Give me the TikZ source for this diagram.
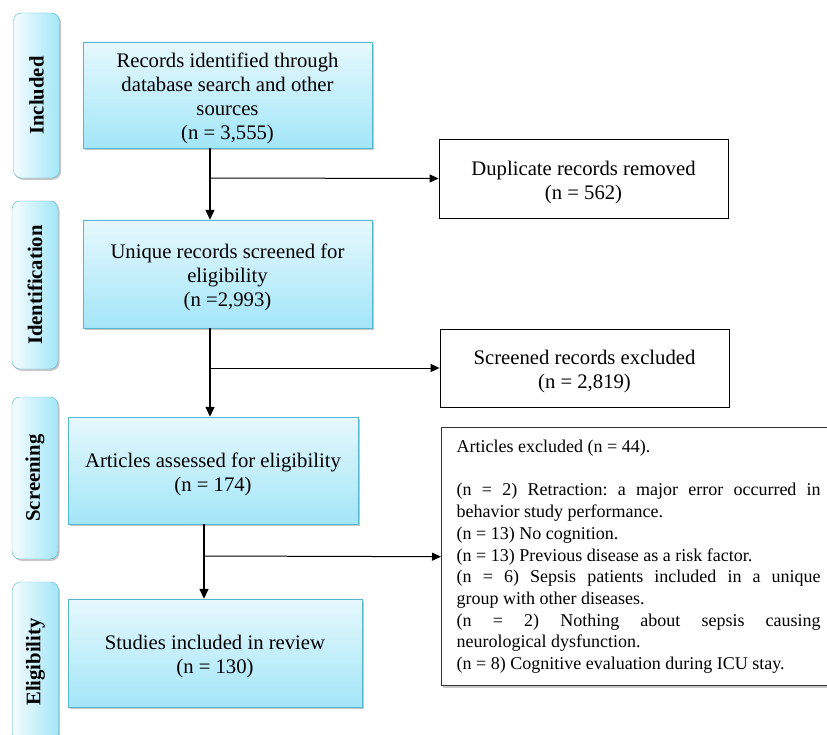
\documentclass[tikz,border=0pt]{standalone}
\usepackage{fontspec}
\setmainfont{Liberation Serif}
\newfontfamily\boxfont{Liberation Serif}
\usetikzlibrary{arrows.meta}
\definecolor{boxtop}{HTML}{E6F8FD}
\definecolor{boxbot}{HTML}{A3E6F8}
\definecolor{boxline}{HTML}{56B6CF}
\newcommand{\topgap}{\rule{0pt}{21.5pt}}

\begin{document}
\begin{tikzpicture}[x=1pt,y=-1pt,
  shade box/.style={preaction={fill=black,opacity=0.22,transform canvas={shift={(1.5pt,-1.8pt)}}}},
  stage/.style={draw=boxline,rounded corners=8pt,left color=boxtop!40!white,right color=boxbot,
    minimum width=46pt,inner sep=0pt,font=\boxfont\fontsize{20.7}{24}\selectfont\bfseries,shade box},
  flowbox/.style={draw=boxline,top color=boxtop,bottom color=boxbot,minimum width=289pt,
    minimum height=107pt,inner sep=0pt,align=center,font=\boxfont\fontsize{20.7}{24}\selectfont,shade box},
  outbox/.style={draw,line width=0.9pt,fill=white,minimum width=289pt,minimum height=79pt,
    inner sep=0pt,align=center,font=\boxfont\fontsize{20.7}{24}\selectfont},
  arr/.style={-{Triangle[length=10pt,width=9pt]},line width=1.4pt},
  side/.style={-{Triangle[length=9pt,width=8pt]},line width=1pt}]
\useasboundingbox (0,0) rectangle (827,735);
\clip (0,0) rectangle (827,735);

% stages
\node[stage,minimum height=165pt] (inc) at (36.5,95.5) {\rotatebox{90}{Included}};
\node[stage,minimum height=168pt] (ide) at (35,285) {\rotatebox{90}{Identification}};
\node[stage,minimum height=162pt] (scr) at (35,478) {\rotatebox{90}{Screening}};
\node[stage,minimum height=160pt] (eli) at (35.5,662) {\rotatebox{90}{Eligibility}};

% main flow
\node[flowbox,minimum height=106pt] (rec) at (227.5,95) {\topgap Records identified through\\database search and other\\sources\\(n = 3,555)};
\node[flowbox,minimum height=108pt] (uni) at (227.5,274) {\topgap Unique records screened for\\eligibility\\(n =2,993)};
\node[flowbox,minimum width=290pt] (art) at (213,470.5) {\topgap Articles assessed for eligibility\\(n = 174)};
\node[flowbox,minimum width=294pt,minimum height=108pt] (stu) at (215,653) {\topgap Studies included in review\\(n = 130)};

% excluded
\node[outbox] (dup) at (583.5,178.5) {\topgap Duplicate records removed\\(n = 562)};
\node[outbox,minimum height=78pt] (sre) at (584.5,368) {\topgap Screened records excluded\\(n = 2,819)};
\node[draw=black!80,line width=1.4pt,fill=white,anchor=north west,text width=364pt,inner xsep=15pt,
  inner ysep=0pt,minimum height=258pt,align=justify,font=\boxfont\fontsize{18}{21.7}\selectfont,
  shade box] (exc) at (441,427)
  {\frenchspacing\hyphenpenalty=10000 \tolerance=9999
  Articles excluded (n = 44).\par\vspace{21.7pt}
  (n = 2) Retraction: a major error occurred in\linebreak behavior study performance.\par
  (n = 13) No cognition.\par
  (n = 13) Previous disease as a risk factor.\par
  (n = 6) Sepsis patients included in a unique\linebreak group with other diseases.\par
  (n = 2) Nothing about sepsis causing\linebreak neurological dysfunction.\par
  (n = 8) Cognitive evaluation during ICU stay.};

% connectors
\coordinate (j1) at (210,178);
\coordinate (j2) at (210,368);
\coordinate (j3) at (204,556);
\draw[arr] (rec.south -| j1) -- (uni.north -| j1);
\draw[side] (j1) -- (dup.west);
\draw[arr] (uni.south -| j2) -- (art.north -| j2);
\draw[side] (j2) -- (sre.west);
\draw[arr] (art.south -| j3) -- (stu.north -| j3);
\draw[side] (j3) -- (exc.west);

\end{tikzpicture}
\end{document}
